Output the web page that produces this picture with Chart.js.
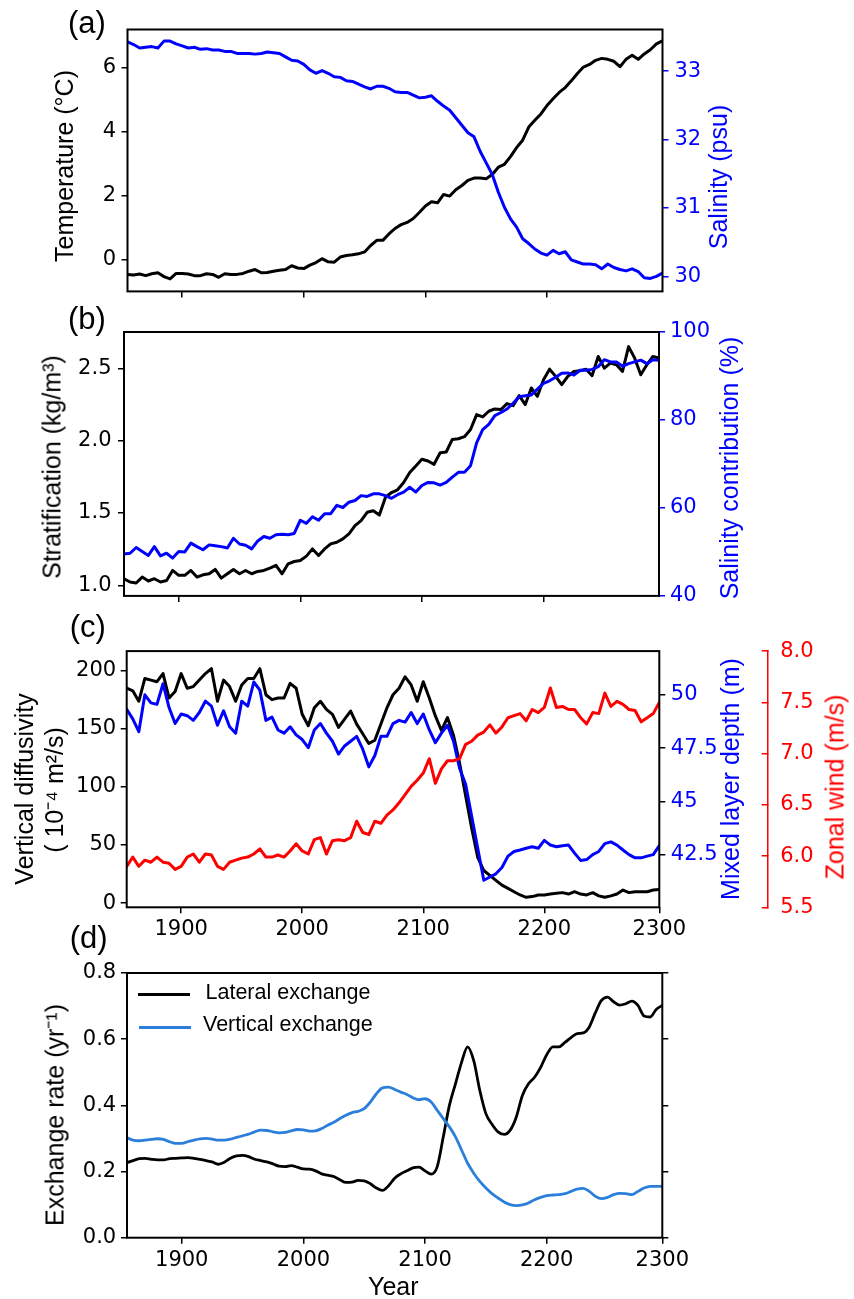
<!DOCTYPE html>
<html><head><meta charset="utf-8">
<script src="https://cdn.jsdelivr.net/npm/chart.js@4.4.0/dist/chart.umd.min.js"></script>
<style>
html,body{margin:0;padding:0;background:#fff;}
#wrap{position:relative;width:854px;height:1299px;overflow:hidden;background:#fff;}
canvas{position:absolute;left:0;}
.t{position:absolute;white-space:nowrap;font-family:'Liberation Sans',Arial,sans-serif;font-size:25px;line-height:1;transform:translate(-50%,-50%) rotate(-90deg);}
.th{position:absolute;white-space:nowrap;font-family:'Liberation Sans',Arial,sans-serif;font-size:25px;line-height:1;transform:translate(-50%,-50%);}
.p{position:absolute;white-space:nowrap;font-family:'Liberation Sans',Arial,sans-serif;font-size:31px;line-height:1;}
.lg{position:absolute;white-space:nowrap;font-family:'Liberation Sans',Arial,sans-serif;font-size:21.5px;line-height:1;}
.ll{position:absolute;height:3px;width:52px;}
</style></head><body><div id="wrap">
<canvas id="ca" width="854" height="310" style="top:0px"></canvas>
<canvas id="cb" width="854" height="305" style="top:310px"></canvas>
<canvas id="cc" width="854" height="330" style="top:620px"></canvas>
<canvas id="cd" width="854" height="359" style="top:940px"></canvas>

<div class="p" style="left:68px;top:6.8px">(a)</div>
<div class="p" style="left:68px;top:303.3px">(b)</div>
<div class="p" style="left:69.7px;top:611.3px">(c)</div>
<div class="p" style="left:69.7px;top:922.3px">(d)</div>

<div class="t" style="left:63.8px;top:165.5px;color:#000">Temperature (°C)</div>
<div class="t" style="left:717.8px;top:177px;color:#0000ff">Salinity (psu)</div>
<div class="t" style="left:51.8px;top:467px;color:#000">Stratification (kg/m³)</div>
<div class="t" style="left:728.8px;top:468px;color:#0000ff">Salinity contribution (%)</div>
<div class="t" style="left:23.8px;top:789px;color:#000">Vertical diffusivity</div>
<div class="t" style="left:53.8px;top:790px;color:#000">( 10⁻⁴ m²/s)</div>
<div class="t" style="left:729.5px;top:779px;color:#0000ff">Mixed layer depth (m)</div>
<div class="t" style="left:835.1px;top:786.7px;color:#ff0000">Zonal wind (m/s)</div>
<div class="t" style="left:55.3px;top:1115px;color:#000">Exchange rate (yr⁻¹)</div>
<div class="th" style="left:393.3px;top:1285.7px;color:#000">Year</div>

<div class="ll" style="left:138px;top:992.8px;background:#000"></div>
<div class="lg" style="left:205.5px;top:981.5px;color:#000">Lateral exchange</div>
<div class="ll" style="left:139px;top:1025.8px;background:rgb(43,127,219)"></div>
<div class="lg" style="left:203px;top:1013.5px;color:#000">Vertical exchange</div>
</div>
<script>
const YEARS = [1855,1860,1865,1870,1875,1880,1885,1890,1895,1900,
1905,1910,1915,1920,1925,1930,1935,1940,1945,1950,
1955,1960,1965,1970,1975,1980,1985,1990,1995,2000,
2005,2010,2015,2020,2025,2030,2035,2040,2045,2050,
2055,2060,2065,2070,2075,2080,2085,2090,2095,2100,
2105,2110,2115,2120,2125,2130,2135,2140,2145,2150,
2155,2160,2165,2170,2175,2180,2185,2190,2195,2200,
2205,2210,2215,2220,2225,2230,2235,2240,2245,2250,
2255,2260,2265,2270,2275,2280,2285,2290,2295];

// (a) temperature (°C) and salinity (psu)
const TEMP = [-0.45,-0.47,-0.44,-0.49,-0.43,-0.40,-0.52,-0.59,-0.42,-0.42,
-0.44,-0.49,-0.49,-0.43,-0.45,-0.54,-0.43,-0.45,-0.45,-0.42,
-0.35,-0.30,-0.40,-0.39,-0.35,-0.32,-0.30,-0.18,-0.25,-0.27,
-0.16,-0.08,0.04,-0.06,-0.07,0.09,0.14,0.16,0.19,0.25,
0.45,0.61,0.61,0.81,0.98,1.10,1.17,1.29,1.48,1.68,
1.81,1.78,2.04,1.99,2.19,2.32,2.48,2.55,2.55,2.53,
2.66,2.89,2.98,3.22,3.50,3.73,4.14,4.35,4.55,4.81,
5.02,5.22,5.37,5.58,5.81,6.01,6.09,6.22,6.28,6.25,
6.19,6.02,6.25,6.38,6.25,6.42,6.55,6.73,6.83];
const SAL = [33.43,33.39,33.34,33.35,33.36,33.34,33.44,33.44,33.40,33.37,
33.34,33.35,33.32,33.33,33.31,33.31,33.29,33.29,33.26,33.26,
33.26,33.25,33.26,33.28,33.27,33.26,33.21,33.16,33.15,33.10,
33.02,32.97,33.01,32.97,32.92,32.91,32.86,32.85,32.81,32.77,
32.74,32.78,32.78,32.75,32.70,32.69,32.69,32.65,32.61,32.62,
32.64,32.56,32.49,32.43,32.32,32.21,32.10,32.04,31.83,31.66,
31.49,31.23,31.01,30.84,30.72,30.55,30.48,30.40,30.34,30.31,
30.38,30.33,30.36,30.24,30.21,30.18,30.18,30.17,30.11,30.18,
30.13,30.10,30.08,30.11,30.07,29.98,29.97,30.00,30.05];

// (b) stratification (kg/m3) and salinity contribution (%)
const STRAT = [1.046,1.023,1.016,1.057,1.030,1.046,1.023,1.034,1.103,1.069,
1.069,1.103,1.057,1.073,1.080,1.110,1.050,1.080,1.110,1.080,
1.103,1.080,1.096,1.103,1.119,1.138,1.080,1.149,1.165,1.172,
1.202,1.252,1.206,1.252,1.287,1.298,1.321,1.356,1.413,1.447,
1.505,1.516,1.486,1.608,1.642,1.661,1.711,1.780,1.826,1.872,
1.860,1.837,1.917,1.922,2.009,2.014,2.028,2.078,2.181,2.165,
2.204,2.220,2.216,2.257,2.243,2.312,2.250,2.365,2.307,2.422,
2.495,2.445,2.388,2.445,2.479,2.484,2.495,2.450,2.583,2.502,
2.537,2.525,2.479,2.651,2.571,2.456,2.525,2.583,2.571];
const SALCONTRIB = [49.5,49.7,51.0,50.1,49.2,51.2,49.1,49.7,48.6,50.1,
50.0,52.0,51.2,50.5,51.6,51.4,51.2,50.9,53.1,51.8,
51.5,50.7,52.5,53.5,53.1,53.9,54.0,53.9,54.2,57.2,
56.5,58.0,57.2,58.7,58.7,60.6,60.1,61.3,61.7,62.8,
62.6,63.2,63.2,62.8,62.2,63.0,63.6,64.7,63.6,65.1,
65.8,65.7,65.2,65.8,67.0,68.1,68.1,69.6,74.8,77.8,
79.0,81.0,81.7,82.5,83.8,85.3,85.5,85.7,87.0,88.3,
88.9,89.7,90.6,90.7,90.2,91.3,91.3,91.5,92.1,93.7,
93.2,93.2,92.2,92.8,93.2,93.6,92.8,93.7,93.6];

// (c) vertical diffusivity (1e-4 m2/s), mixed layer depth (m), zonal wind (m/s)
const DIFF = [184.6,182.4,173.4,193.0,191.6,190.2,197.2,176.2,181.8,197.2,
184.6,186.0,191.6,197.2,201.4,173.4,191.6,186.0,173.4,187.4,
193.0,193.0,201.4,179.0,174.8,176.2,176.2,188.8,184.6,162.2,
152.4,167.8,173.4,166.4,162.2,151.0,158.0,165.0,153.8,145.5,
137.1,139.9,153.8,167.8,179.0,184.6,194.4,187.4,173.4,190.2,
176.2,160.8,148.3,159.4,144.1,120.3,92.3,64.3,39.2,28.0,
23.8,19.6,15.4,12.6,9.8,7.0,5.0,5.6,7.0,7.0,
7.8,8.4,9.0,7.8,9.8,7.8,7.0,9.0,6.2,5.0,
6.2,7.8,11.2,9.0,9.8,9.8,9.8,11.2,11.7];
const MLD = [49.32,48.87,48.27,50.00,49.62,49.55,50.52,49.40,48.65,49.10,
49.02,48.80,49.17,49.70,49.47,48.57,49.25,48.50,48.20,49.70,
49.47,50.60,50.22,48.80,48.95,48.35,48.20,48.50,48.12,47.90,
47.52,48.35,48.65,48.20,47.82,47.22,47.60,47.82,48.05,47.45,
46.62,47.15,48.05,48.05,48.65,48.80,48.72,49.17,48.65,49.10,
48.35,47.75,48.20,48.57,47.82,46.55,45.80,44.30,42.80,41.30,
41.45,41.60,41.90,42.43,42.65,42.72,42.80,42.87,42.80,43.17,
42.95,42.87,42.92,42.95,42.57,42.23,42.27,42.50,42.65,43.02,
43.10,42.95,42.72,42.50,42.35,42.35,42.43,42.50,42.92];
const WIND = [5.90,5.99,5.90,5.96,5.94,5.99,5.94,5.93,5.87,5.90,
5.99,6.02,5.94,6.02,6.01,5.90,5.87,5.94,5.96,5.98,
5.99,6.02,6.07,5.99,5.99,6.01,5.99,6.05,6.12,6.05,
6.02,6.16,6.18,6.02,6.15,6.16,6.15,6.18,6.34,6.23,
6.21,6.34,6.32,6.40,6.45,6.52,6.60,6.68,6.74,6.81,
6.95,6.71,6.85,6.93,6.93,6.95,7.09,7.12,7.18,7.21,
7.28,7.20,7.26,7.35,7.37,7.39,7.32,7.43,7.40,7.45,
7.64,7.45,7.46,7.43,7.43,7.35,7.29,7.40,7.39,7.59,
7.46,7.51,7.48,7.43,7.42,7.31,7.35,7.39,7.50];

// (d) exchange rates (1/yr)
const LATERAL = [0.227,0.233,0.239,0.240,0.237,0.235,0.235,0.239,0.240,0.241,
0.242,0.240,0.237,0.233,0.229,0.222,0.228,0.240,0.247,0.249,
0.245,0.237,0.233,0.229,0.223,0.216,0.215,0.218,0.213,0.208,
0.207,0.202,0.193,0.189,0.185,0.175,0.167,0.168,0.173,0.172,
0.163,0.150,0.143,0.157,0.180,0.193,0.202,0.211,0.213,0.202,
0.192,0.215,0.305,0.400,0.465,0.530,0.577,0.535,0.445,0.375,
0.343,0.320,0.312,0.325,0.365,0.430,0.465,0.485,0.515,0.553,
0.577,0.577,0.590,0.605,0.617,0.619,0.637,0.680,0.717,0.727,
0.713,0.703,0.707,0.715,0.702,0.670,0.667,0.690,0.702];
const VERTICAL = [0.302,0.295,0.293,0.295,0.297,0.299,0.297,0.290,0.285,0.285,
0.290,0.295,0.299,0.300,0.298,0.295,0.295,0.298,0.303,0.308,
0.313,0.320,0.325,0.324,0.320,0.317,0.318,0.323,0.327,0.326,
0.322,0.323,0.330,0.340,0.349,0.360,0.370,0.378,0.382,0.390,
0.410,0.435,0.453,0.455,0.448,0.440,0.433,0.423,0.417,0.420,
0.410,0.385,0.360,0.335,0.305,0.265,0.225,0.195,0.170,0.150,
0.133,0.120,0.108,0.100,0.097,0.099,0.105,0.115,0.122,0.127,
0.129,0.130,0.133,0.140,0.147,0.149,0.140,0.125,0.118,0.122,
0.130,0.134,0.133,0.130,0.140,0.150,0.155,0.155,0.155];

// tick positions and labels
const X_TICK_POS = [1900, 2000, 2100, 2200, 2295];
const X_TICK_LABELS = ['1900', '2000', '2100', '2200', '2300'];
const TEMP_TICKS = [0, 2, 4, 6];
const SAL_TICKS = [30, 31, 32, 33];
const STRAT_TICKS = [1.0, 1.5, 2.0, 2.5];
const SALC_TICKS = [40, 60, 80, 100];
const DIFF_TICKS = [0, 50, 100, 150, 200];
const MLD_TICKS = [42.5, 45, 47.5, 50];
const WIND_TICKS = [5.5, 6.0, 6.5, 7.0, 7.5, 8.0];
const RATE_TICKS = [0, 0.2, 0.4, 0.6, 0.8];

const TICK_FONT = {family: "'DejaVu Sans', sans-serif", size: 21};
const BLUE = '#0000ff', RED = '#ff0000', LBLUE = 'rgb(43,127,219)';

const pts = arr => YEARS.map((x, i) => ({x: x, y: arr[i]}));

function lineDS(arr, color, axis, order, width, smooth) {
  return {data: pts(arr), borderColor: color, backgroundColor: color, borderWidth: width,
    pointRadius: 0, yAxisID: axis, order: order, tension: smooth ? 0.4 : 0,
    cubicInterpolationMode: smooth ? 'monotone' : 'default', fill: false,
    borderJoinStyle: 'round', borderCapStyle: 'round'};
}

function xAxis(showLabels, nTicks, height) {
  return {type: 'linear', position: 'bottom', min: 1855, max: 2295,
    afterBuildTicks: s => { s.ticks = X_TICK_POS.slice(0, nTicks).map(v => ({value: v})); },
    ticks: {display: showLabels, color: '#000', font: TICK_FONT, padding: 4, maxRotation: 0, autoSkip: false,
      callback: v => X_TICK_LABELS[X_TICK_POS.indexOf(v)]},
    grid: {display: true, drawOnChartArea: false, drawTicks: true, tickLength: 6, color: '#000', lineWidth: 1.5},
    border: {display: false},
    afterFit: s => { s.height = height; }};
}

function yAxis(o) {
  return {type: 'linear', position: o.pos, min: o.min, max: o.max, weight: o.weight || 0,
    afterBuildTicks: s => { s.ticks = o.ticks.map(v => ({value: v})); },
    ticks: {display: o.labels !== false, color: o.color || '#000', font: TICK_FONT, padding: o.padding,
      callback: o.fmt || (v => String(v))},
    grid: {display: true, drawOnChartArea: false, drawTicks: true, tickLength: (o.tl !== undefined ? o.tl : 6),
      color: o.tickColor || '#000', lineWidth: 1.5},
    border: o.border ? {display: true, color: o.border, width: 1.5} : {display: false},
    afterFit: s => { s.width = o.width; }};
}

const framePlugin = {id: 'frame', afterDraw(chart) {
  const ctx = chart.ctx, a = chart.chartArea;
  ctx.save(); ctx.strokeStyle = '#000'; ctx.lineWidth = 2;
  ctx.strokeRect(a.left, a.top, a.right - a.left, a.bottom - a.top); ctx.restore();
}};

function opts(padding, scales) {
  return {responsive: false, animation: false, devicePixelRatio: 1, events: [],
    layout: {padding: padding, autoPadding: false},
    plugins: {legend: {display: false}, tooltip: {enabled: false}},
    scales: scales};
}

const f1 = v => v.toFixed(1);
const LW = 3;

// Panel (a)
new Chart(document.getElementById('ca'), {type: 'line', plugins: [framePlugin],
  data: {datasets: [lineDS(TEMP, '#000', 'yT', 2, LW), lineDS(SAL, BLUE, 'yS', 1, LW)]},
  options: opts({top: 29.5, bottom: 5.5, left: 0, right: 0}, {
    x: xAxis(false, 4, 10),
    yT: yAxis({pos: 'left', min: -0.98, max: 7.18, ticks: TEMP_TICKS, padding: 5.5, width: 127.5}),
    yS: yAxis({pos: 'right', min: 29.78, max: 33.61, ticks: SAL_TICKS, padding: 6, width: 191.5, color: BLUE, tickColor: BLUE})
  })});

// Panel (b)
new Chart(document.getElementById('cb'), {type: 'line', plugins: [framePlugin],
  data: {datasets: [lineDS(STRAT, '#000', 'yN', 2, LW), lineDS(SALCONTRIB, BLUE, 'yP', 1, LW)]},
  options: opts({top: 22, bottom: 7.5, left: 0, right: 0}, {
    x: xAxis(false, 4, 10),
    yN: yAxis({pos: 'left', min: 0.927, max: 2.752, ticks: STRAT_TICKS, padding: 6.5, width: 124, fmt: f1}),
    yP: yAxis({pos: 'right', min: 40, max: 100, ticks: SALC_TICKS, padding: 5, width: 195, color: BLUE, tickColor: BLUE})
  })});

// Panel (c)
new Chart(document.getElementById('cc'), {type: 'line', plugins: [framePlugin],
  data: {datasets: [lineDS(DIFF, '#000', 'yK', 3, LW), lineDS(MLD, BLUE, 'yM', 2, LW), lineDS(WIND, RED, 'yW', 1, LW)]},
  options: opts({top: 24.3, bottom: 2.7, left: 0, right: 0}, {
    x: xAxis(true, 5, 40),
    yK: yAxis({pos: 'left', min: -3.6, max: 216.5, ticks: DIFF_TICKS, padding: 4.5, width: 126.7}),
    yM: yAxis({pos: 'right', min: 40.03, max: 52.05, ticks: MLD_TICKS, padding: 5.5, width: 108.4, color: BLUE, weight: 0}),
    yW: yAxis({pos: 'right', min: 5.5, max: 8.0, ticks: WIND_TICKS, padding: 18.5, width: 86.3, color: RED, tickColor: RED,
      tl: -6, border: RED, fmt: f1, weight: 1})
  })});

// Panel (d)
new Chart(document.getElementById('cd'), {type: 'line', plugins: [framePlugin],
  data: {datasets: [lineDS(LATERAL, '#000', 'yR', 2, 2.8, true), lineDS(VERTICAL, LBLUE, 'yR', 1, 2.8, true)]},
  options: opts({top: 33, bottom: 0, left: 0, right: 0}, {
    x: xAxis(true, 5, 61.3),
    yR: yAxis({pos: 'left', min: 0, max: 0.8, ticks: RATE_TICKS, padding: 4.8, width: 127, fmt: f1}),
    yR2: yAxis({pos: 'right', min: 0, max: 0.8, ticks: RATE_TICKS, padding: 4, width: 191.7, labels: false})
  })});
</script>
</body></html>
